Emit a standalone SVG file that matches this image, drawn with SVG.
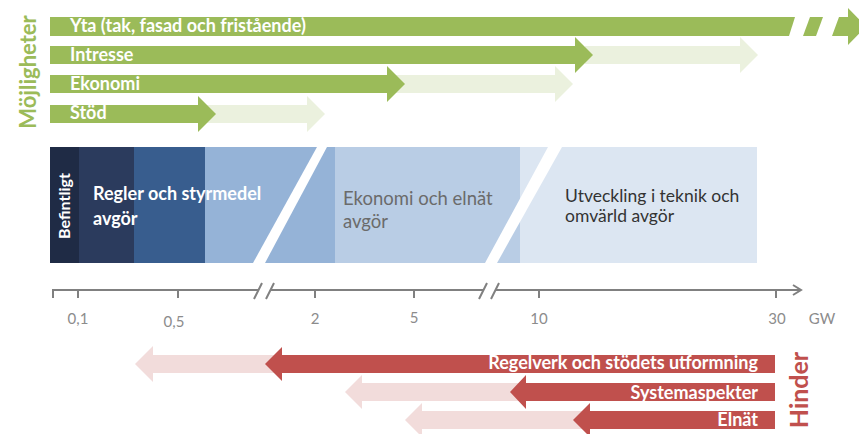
<svg xmlns="http://www.w3.org/2000/svg" width="859" height="434" viewBox="0 0 859 434">
<style>
text{font-family:Lato,"Open Sans","Liberation Sans",sans-serif}
.g{fill:#9BBB59}.gl{fill:#EBF1DE}
.r{fill:#C0504D}.rl{fill:#F2DCDB}
.wt{fill:#fff;font-weight:bold;font-size:18px}
.ax{stroke:#808080;stroke-width:2;fill:none}
.lbl{fill:#8C8C8C;font-size:15px;text-anchor:middle}
.rt{fill:#fff;font-weight:bold;font-size:18px;text-anchor:end}
</style>
<rect width="859" height="434" fill="#fff"/>
<text transform="translate(36,72) rotate(-90)" text-anchor="middle" font-size="22" font-weight="bold" fill="#9BBB59">Möjligheter</text>
<g id="yta">
<polygon class="g" points="50,17 795,17 789,36 50,36"/>
<polygon class="g" points="810,17 823,17 816,36 803,36"/>
<polygon class="g" points="839,17 848,17 848,8 866,26.5 848,45 848,36 832,36"/>
<text class="wt" x="70" y="32">Yta (tak, fasad och fristående)</text>
</g>
<g id="intresse">
<polygon class="gl" points="585,46 740,46 740,37 758,55 740,73 740,64 585,64"/>
<polygon class="g" points="50,46 575,46 575,37 593,55 575,73 575,64 50,64"/>
<text class="wt" x="70" y="61">Intresse</text>
</g>
<g id="ekonomi">
<polygon class="gl" points="395,75 555,75 555,66 573,84 555,102 555,93 395,93"/>
<polygon class="g" points="50,75 387,75 387,66 405,84 387,102 387,93 50,93"/>
<text class="wt" x="70" y="90">Ekonomi</text>
</g>
<g id="stod">
<polygon class="gl" points="207,105 307,105 307,96 325,114 307,132 307,123 207,123"/>
<polygon class="g" points="50,105 198,105 198,96 216,114 198,132 198,123 50,123"/>
<text class="wt" x="70" y="119">Stöd</text>
</g>
<g id="band">
<rect x="50" y="147" width="29" height="116" fill="#1F2B45"/>
<rect x="79" y="147" width="55" height="116" fill="#2B3B5D"/>
<rect x="134" y="147" width="71" height="116" fill="#385D8E"/>
<rect x="205" y="147" width="130" height="116" fill="#95B3D7"/>
<rect x="335" y="147" width="185" height="116" fill="#B9CDE5"/>
<rect x="520" y="147" width="237" height="116" fill="#DCE6F2"/>
<polygon fill="#fff" points="317,147 327,147 265,263 253,263"/>
<polygon fill="#fff" points="548,147 562,147 497,263 485,263"/>
</g>
<g id="befintligt">
<text transform="translate(70,206) rotate(-90)" text-anchor="middle" font-size="16" font-weight="bold" fill="#fff">Befintligt</text>
</g>
<g id="regler">
<text x="93" y="200" font-size="18" font-weight="bold" fill="#fff">Regler och styrmedel</text>
<text x="93" y="225" font-size="18" font-weight="bold" fill="#fff">avgör</text>
</g>
<g id="ekonomi-elnat">
<text x="343" y="205" font-size="18.5" fill="#6B6B6B">Ekonomi och elnät</text>
<text x="343" y="228" font-size="18.5" fill="#6B6B6B">avgör</text>
</g>
<g id="utveckling">
<text x="565" y="202" font-size="17.5" fill="#333">Utveckling i teknik och</text>
<text x="565" y="222" font-size="17.5" fill="#333">omvärld avgör</text>
</g>
<g id="axis">
<polyline class="ax" points="53,298 53,290 258,290"/>
<line class="ax" x1="271" y1="290" x2="484" y2="290"/>
<line class="ax" x1="496" y1="290" x2="801" y2="290"/>
<polyline class="ax" points="793,285 801,290 793,295"/>
<path class="ax" d="M78,290V298M178,290V298M315,290V298M414,290V298M539,290V298M776,290V298"/>
<path class="ax" d="M254,299L262,283M266,299L274,283M479,299L487,283M491,299L499,283"/>
<text class="lbl" x="78" y="324">0,1</text>
<text class="lbl" x="174" y="327">0,5</text>
<text class="lbl" x="315" y="324">2</text>
<text class="lbl" x="414" y="323">5</text>
<text class="lbl" x="539" y="324">10</text>
<text class="lbl" x="777" y="324">30</text>
<text class="lbl" x="822" y="324" font-size="16">GW</text>
</g>
<g id="regelverk">
<polygon class="rl" points="135,364 153,346 153,355 275,355 275,373 153,373 153,382"/>
<polygon class="r" points="265,364 282,347 282,355 775,355 775,373 282,373 282,381"/>
<text class="rt" x="758" y="369">Regelverk och stödets utformning</text>
</g>
<g id="systemaspekter">
<polygon class="rl" points="345,392 362,375 362,383 520,383 520,401 362,401 362,409"/>
<polygon class="r" points="510,392 526,375 526,383 775,383 775,401 526,401 526,409"/>
<text class="rt" x="758" y="399">Systemaspekter</text>
</g>
<g id="elnat">
<polygon class="rl" points="405,420 422,403 422,411 585,411 585,429 422,429 422,437"/>
<polygon class="r" points="573,420 590,403 590,411 775,411 775,429 590,429 590,437"/>
<text class="rt" x="758" y="426">Elnät</text>
</g>
<text transform="translate(808,390) rotate(-90)" text-anchor="middle" font-size="25" font-weight="bold" fill="#C0504D">Hinder</text>
</svg>
